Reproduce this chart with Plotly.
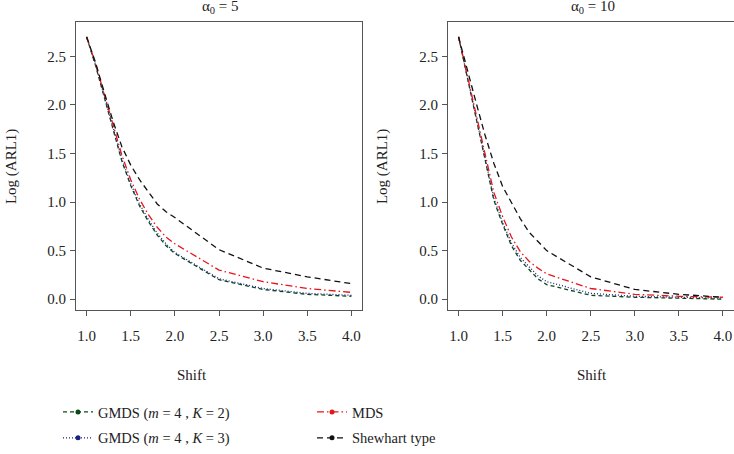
import plotly.graph_objects as go

# ---------------- data ----------------
shift = [1.0, 1.1, 1.2, 1.3, 1.4, 1.5, 1.6, 1.7, 1.8, 1.9, 2.0, 2.5, 3.0, 3.5, 4.0]

# alpha0 = 5 panel
a5_gmds_k2 = [2.70, 2.41, 2.08, 1.75, 1.42, 1.17, 0.96, 0.80, 0.66, 0.55, 0.47, 0.20, 0.10, 0.05, 0.03]
a5_gmds_k3 = [2.70, 2.42, 2.09, 1.76, 1.44, 1.19, 0.98, 0.82, 0.68, 0.57, 0.48, 0.21, 0.11, 0.06, 0.04]
a5_mds = [2.70, 2.43, 2.11, 1.79, 1.48, 1.23, 1.03, 0.87, 0.74, 0.64, 0.57, 0.30, 0.18, 0.11, 0.07]
a5_shewhart = [2.70, 2.44, 2.13, 1.83, 1.57, 1.38, 1.23, 1.10, 0.98, 0.90, 0.84, 0.51, 0.32, 0.23, 0.16]

# alpha0 = 10 panel
a10_gmds_k2 = [2.70, 2.28, 1.88, 1.45, 1.02, 0.77, 0.55, 0.40, 0.30, 0.21, 0.15, 0.04, 0.02, 0.01, 0.00]
a10_gmds_k3 = [2.70, 2.29, 1.89, 1.46, 1.04, 0.79, 0.58, 0.43, 0.33, 0.24, 0.18, 0.06, 0.03, 0.02, 0.01]
a10_mds = [2.70, 2.30, 1.91, 1.50, 1.10, 0.85, 0.64, 0.49, 0.39, 0.32, 0.26, 0.11, 0.05, 0.03, 0.02]
a10_shewhart = [2.70, 2.35, 2.02, 1.69, 1.40, 1.16, 0.99, 0.83, 0.69, 0.59, 0.50, 0.23, 0.10, 0.05, 0.02]

series_names = ["GMDS (<i>m</i> = 4 , <i>K</i> = 2)", "GMDS (<i>m</i> = 4 , <i>K</i> = 3)",
                "MDS", "Shewhart type"]
panel_titles = ["α<sub>0</sub> = 5", "α<sub>0</sub> = 10"]
x_ticks = [1.0, 1.5, 2.0, 2.5, 3.0, 3.5, 4.0]
y_ticks = [0.0, 0.5, 1.0, 1.5, 2.0, 2.5]

# ---------------- styles ----------------
FONT = "Liberation Serif"
colors = ["#0b4a17", "#1a237e", "#e8141a", "#111111"]
dashes = ["4px,3px", "1px,2px", "7px,3px,1.5px,3px", "6px,4px"]
legend_ids = ["legend", "legend", "legend2", "legend2"]

W, H = 734, 454
fig = go.Figure()

panels = [
    ("x", "y", [a5_gmds_k2, a5_gmds_k3, a5_mds, a5_shewhart]),
    ("x2", "y2", [a10_gmds_k2, a10_gmds_k3, a10_mds, a10_shewhart]),
]
for xa, ya, data in panels:
    for i, vals in enumerate(data):
        fig.add_trace(go.Scatter(
            x=shift, y=vals, mode="lines", xaxis=xa, yaxis=ya,
            line=dict(color=colors[i], width=1.3, dash=dashes[i]),
            showlegend=False, hoverinfo="skip"))

# legend-only entries (line + dot symbol)
for i, name in enumerate(series_names):
    fig.add_trace(go.Scatter(
        x=[None], y=[None], mode="lines+markers", name=name,
        line=dict(color=colors[i], width=1.3, dash=dashes[i]),
        marker=dict(color=colors[i], size=5),
        legend=legend_ids[i], legendgroup=f"g{i}", showlegend=True))

axis_common = dict(
    showline=True, mirror=True, linecolor="#555555", linewidth=1.2,
    ticks="outside", ticklen=5, tickwidth=1, tickcolor="#555555",
    showgrid=False, zeroline=False, automargin=False,
    ticklabeloverflow="allow",
    tickfont=dict(family=FONT, size=15, color="#222222"),
)

x_dom = [[76 / W, 362 / W], [448 / W, 733.5 / W]]
y_dom = [1 - 319 / H, 1 - 23 / H]

layout = dict(
    width=W, height=H, margin=dict(l=0, r=0, t=0, b=0),
    paper_bgcolor="white", plot_bgcolor="white",
    font=dict(family=FONT, size=15, color="#222222"),
)
for k, (xa, ya) in enumerate([("xaxis", "yaxis"), ("xaxis2", "yaxis2")]):
    xn = "x" if k == 0 else "x2"
    yn = "y" if k == 0 else "y2"
    layout[xa] = dict(axis_common, domain=x_dom[k], anchor=yn, range=[0.88, 4.12],
                      tickvals=x_ticks, ticktext=[f"{v:.1f}" for v in x_ticks],
                      ticklabelstandoff=7)
    layout[ya] = dict(axis_common, domain=y_dom, anchor=xn, range=[-0.11, 2.85],
                      tickvals=y_ticks, ticktext=[f"{v:.1f}" for v in y_ticks],
                      ticklabelstandoff=1)

legend_common = dict(y=1 - 408 / H, xanchor="left", yanchor="top",
                     orientation="v", bgcolor="rgba(0,0,0,0)", tracegroupgap=4,
                     font=dict(family=FONT, size=14.5, color="#222222"))
layout["legend"] = dict(legend_common, x=58 / W)
layout["legend2"] = dict(legend_common, x=312 / W)
fig.update_layout(**layout)

ann_font = dict(family=FONT, size=15, color="#222222")
annotations = [
    dict(text=panel_titles[0], x=220 / W, y=1 - 7 / H),
    dict(text=panel_titles[1], x=593 / W, y=1 - 7 / H),
    dict(text="Shift", x=192 / W, y=1 - 386 / H),
    dict(text="Shift", x=592 / W, y=1 - 386 / H),
    dict(text="Log (ARL1)", x=11 / W, y=1 - 172 / H, textangle=-90),
    dict(text="Log (ARL1)", x=382 / W, y=1 - 172 / H, textangle=-90),
]
for a in annotations:
    fig.add_annotation(xref="paper", yref="paper", showarrow=False,
                       xanchor="center", yanchor="middle", font=ann_font, **a)

fig.write_html("out.html", config={"displayModeBar": False},
               post_script="document.body.style.margin='0';document.body.style.overflow='hidden';")
